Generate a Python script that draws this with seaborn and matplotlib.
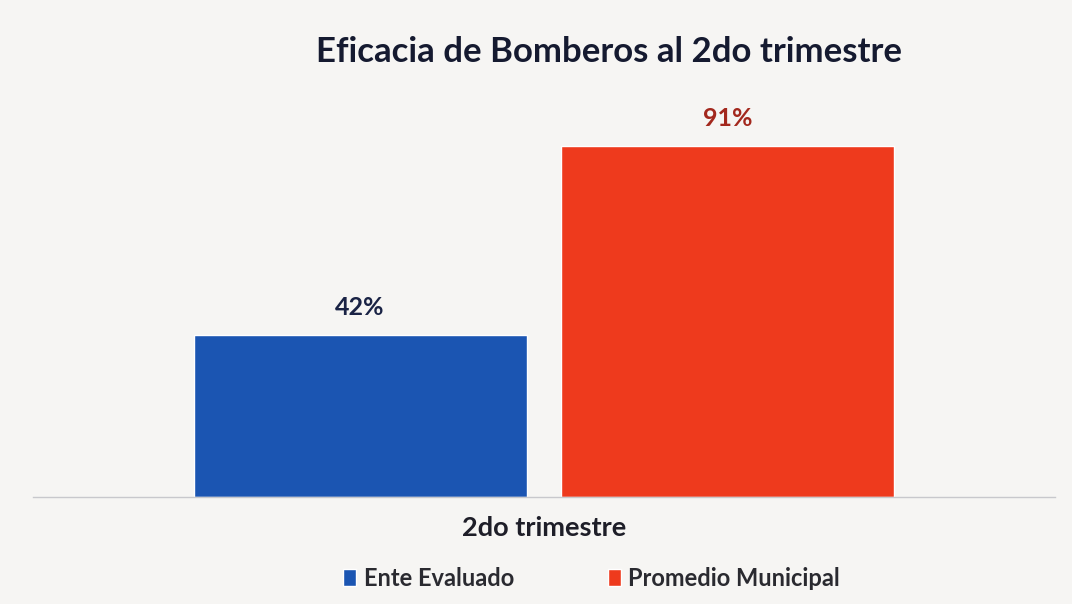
import pandas as pd
import matplotlib.pyplot as plt
import seaborn as sns
from matplotlib.patches import Patch

sns.set_theme(style="white")
plt.rcParams['font.family'] = ['Lato', 'DejaVu Sans']

# data
periodos = ['2do trimestre', '2do trimestre']
series = ['Ente Evaluado', 'Promedio Municipal']
valores = [42, 91]
colores = ['#1b55b2', '#ee3a1d']
label_colors = ['#1a2345', '#a3281d']

df = pd.DataFrame({'periodo': periodos, 'serie': series, 'valor': valores})

fig = plt.figure(figsize=(10.72, 6.04), dpi=100, facecolor='#f6f5f3')
ax = fig.add_axes([33 / 1072, 107 / 604, 1022 / 1072, 397 / 604])
ax.set_facecolor('#f6f5f3')

sns.barplot(data=df, x='periodo', y='valor', hue='serie', palette=colores,
            width=0.72, gap=0.095, ax=ax, legend=False, saturation=1)

ax.set_xlim(-0.5, 0.5)
ax.set_ylim(0, 102.8)

for bar, v, c in zip(ax.patches, valores, label_colors):
    ax.text(bar.get_x() + bar.get_width() / 2, v + 7.0, f'{v}%',
            ha='center', va='center', fontsize=18, fontweight='bold', color=c)

for s in ['top', 'right', 'left']:
    ax.spines[s].set_visible(False)
ax.spines['bottom'].set_color('#c8c8cc')
ax.spines['bottom'].set_linewidth(1.0)
ax.set_yticks([])
ax.set_xlabel('')
ax.set_ylabel('')
ax.tick_params(axis='x', length=0, pad=14)
for t in ax.get_xticklabels():
    t.set_fontsize(19.5)
    t.set_fontweight('bold')
    t.set_color('#1e1e28')

fig.text(0.568, 0.914, 'Eficacia de Bomberos al 2do trimestre', ha='center', va='center',
         fontsize=25, fontweight='bold', color='#151a30')

# legend
handles = [Patch(facecolor=c, label=s) for c, s in zip(colores, series)]
leg = fig.legend(handles=handles, loc='center', bbox_to_anchor=(0.552, 0.043), ncol=2,
                 frameon=False, fontsize=17, handlelength=0.55, handleheight=0.7,
                 handletextpad=0.3, columnspacing=4.0)
for t in leg.get_texts():
    t.set_color('#2a2a30')
    t.set_fontweight('bold')

fig.savefig('out.png', dpi=100, facecolor=fig.get_facecolor())
